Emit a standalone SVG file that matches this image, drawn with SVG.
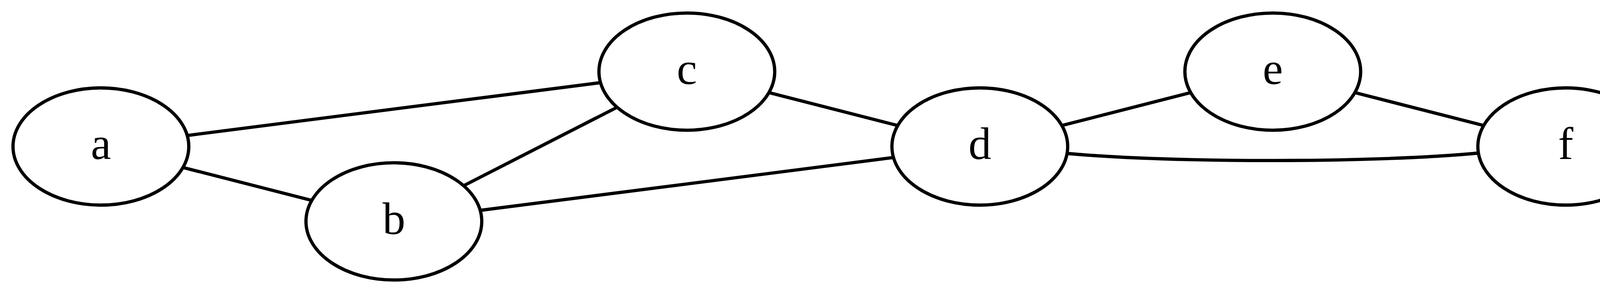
<svg xmlns="http://www.w3.org/2000/svg" width="4267" height="750" viewBox="0 0 4267 750">
<style>
.node ellipse{fill:none;stroke:#000;stroke-width:8.33}
.node text{font-family:"Liberation Serif","Times New Roman",serif;font-size:116.7px;text-anchor:middle;fill:#000}
#edges path{fill:none;stroke:#000;stroke-width:8.33}
</style>
<rect width="4267" height="750" fill="#fff"/>
<g id="edges">
<path d="M479.3,346.8 L1537.3,211.5"/>
<path d="M468.4,428.7 L798.2,513"/>
<path d="M1186.9,475.4 L1579.7,274.6"/>
<path d="M1229.3,538.5 L2287.3,403.2"/>
<path d="M1968.4,237 L2298.2,321.3"/>
<path d="M2718.4,321.3 L3048.2,237"/>
<path d="M3468.4,237 L3798.2,321.3"/>
<path d="M2734,393 C3000,417 3516,417 3783,392"/>
</g>
<g id="node-a" class="node"><ellipse cx="258.3" cy="375" rx="225" ry="150"/><text x="258.3" y="407">a</text></g>
<g id="node-b" class="node"><ellipse cx="1008.3" cy="566.7" rx="225" ry="150"/><text x="1008.3" y="598.7">b</text></g>
<g id="node-c" class="node"><ellipse cx="1758.3" cy="183.3" rx="225" ry="150"/><text x="1758.3" y="215.3">c</text></g>
<g id="node-d" class="node"><ellipse cx="2508.3" cy="375" rx="225" ry="150"/><text x="2508.3" y="407">d</text></g>
<g id="node-e" class="node"><ellipse cx="3258.3" cy="183.3" rx="225" ry="150"/><text x="3258.3" y="215.3">e</text></g>
<g id="node-f" class="node"><ellipse cx="4008.3" cy="375" rx="225" ry="150"/><text x="4008.3" y="407">f</text></g>
</svg>
